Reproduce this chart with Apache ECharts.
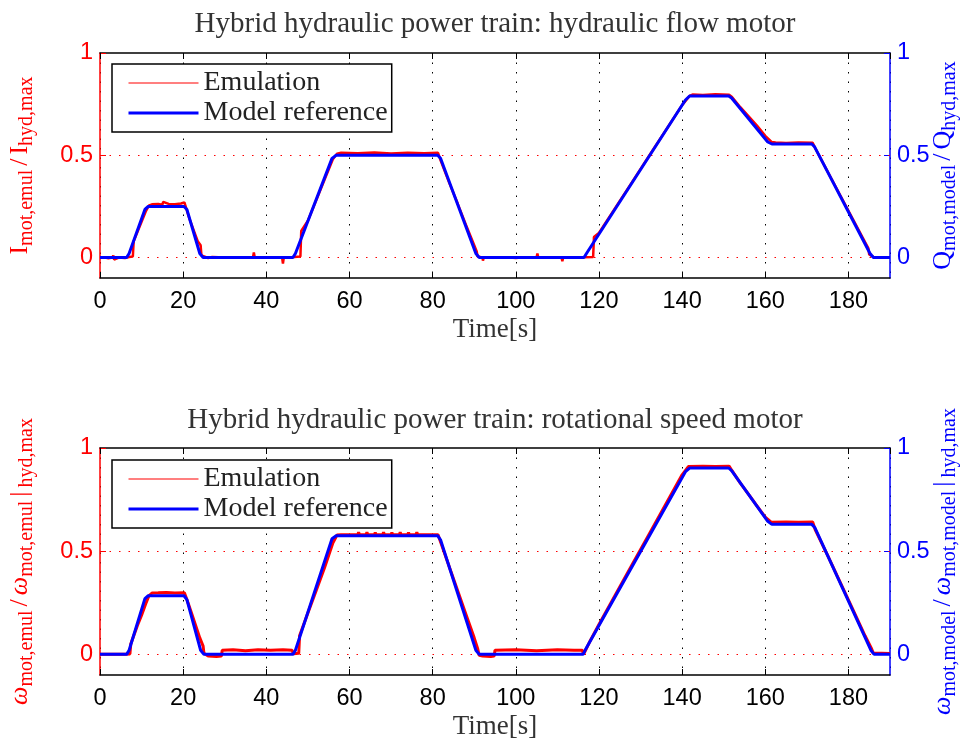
<!DOCTYPE html>
<html>
<head>
<meta charset="utf-8">
<script src="https://cdn.jsdelivr.net/npm/echarts@6/dist/echarts.min.js"></script>
<style>html,body{margin:0;padding:0;background:#fff}#c{width:962px;height:738px}</style>
</head>
<body>
<div id="c"></div>
<script>
// ---------- data ----------
const titles = ['Hybrid hydraulic power train: hydraulic flow motor', 'Hybrid hydraulic power train: rotational speed motor'];
const seriesNames = ['Emulation', 'Model reference'];
const xTicks = [0, 20, 40, 60, 80, 100, 120, 140, 160, 180];
const yTicks = [0, 0.5, 1];

// top plot: model reference (blue)
const modelTopT = [0, 6.4, 7.0, 10.8, 11.6, 20.2, 20.9, 24.0, 24.8, 46.4, 47.0, 55.8, 56.8, 81.2, 81.9, 90.4, 91.2, 116.4, 117.0, 140.8, 141.8, 151.2, 151.9, 160.6, 161.6, 171.2, 171.9, 185.2, 186.0, 190];
const modelTopV = [0, 0, 0.02, 0.235, 0.25, 0.25, 0.235, 0.02, 0, 0, 0.02, 0.485, 0.5, 0.5, 0.485, 0.02, 0, 0, 0.02, 0.77, 0.79, 0.79, 0.78, 0.565, 0.555, 0.555, 0.54, 0.02, 0, 0];
// top plot: emulation (red)
const emulTopT = [0, 1, 2, 3, 3.2, 3.4, 4.5, 6, 7, 7.9, 8.1, 9, 10, 11, 11.8, 12.5, 14, 15, 15.2, 16.5, 18, 19.5, 20.3, 20.6, 21.5, 22.5, 23.5, 24.2, 24.4, 25.2, 26, 27, 30, 33, 36.8, 37, 37.2, 40, 43.8, 44, 44.2, 46, 48.2, 48.4, 50, 52, 54, 56, 57, 58, 62, 66, 70, 74, 78, 81.3, 82, 84, 86, 88, 90, 90.6, 90.8, 92, 92.1, 92.3, 95, 98, 100, 102, 105, 105.2, 105.4, 108, 111, 111.2, 111.4, 114, 116.5, 118.6, 118.8, 120, 124, 128, 132, 136, 140, 141.8, 142.5, 145, 148, 151.3, 152, 154, 156, 158, 160, 161.5, 162.5, 165, 168, 171.4, 172, 175, 178, 181, 184, 184.8, 185, 186, 188, 190];
const emulTopV = [-0.002, 0.001, -0.003, 0.0, 0.01, -0.01, 0.0, -0.002, 0.003, 0.005, 0.08, 0.125, 0.175, 0.225, 0.255, 0.26, 0.262, 0.258, 0.272, 0.262, 0.26, 0.264, 0.27, 0.262, 0.19, 0.135, 0.08, 0.06, 0.01, 0.004, -0.002, 0.003, 0.0, 0.002, 0.001, 0.025, 0.002, 0.0, 0.0, -0.03, 0.0, 0.002, 0.005, 0.13, 0.18, 0.28, 0.38, 0.48, 0.508, 0.512, 0.51, 0.513, 0.509, 0.512, 0.51, 0.512, 0.47, 0.365, 0.265, 0.16, 0.06, 0.03, 0.005, 0.0, -0.015, 0.0, 0.002, 0.001, -0.002, 0.001, 0.0, 0.02, 0.0, 0.002, 0.0, -0.018, 0.0, 0.002, 0.001, 0.003, 0.1, 0.12, 0.245, 0.37, 0.495, 0.62, 0.745, 0.79, 0.797, 0.795, 0.798, 0.796, 0.785, 0.735, 0.69, 0.645, 0.595, 0.565, 0.562, 0.56, 0.563, 0.561, 0.535, 0.42, 0.305, 0.19, 0.075, 0.045, 0.015, 0.003, 0.0, 0.0];

// bottom plot: model reference (blue)
const modelBotT = [0, 6.4, 7.0, 10.8, 11.6, 20.2, 20.9, 24.2, 25.0, 46.4, 47.0, 55.8, 56.8, 81.2, 81.9, 90.4, 91.2, 116.2, 116.8, 140.8, 141.8, 151.2, 151.9, 160.6, 161.6, 171.2, 171.9, 185.4, 186.2, 190];
const modelBotV = [0, 0, 0.02, 0.27, 0.284, 0.284, 0.265, 0.02, 0, 0, 0.02, 0.56, 0.575, 0.575, 0.555, 0.02, 0, 0, 0.025, 0.885, 0.903, 0.903, 0.89, 0.645, 0.63, 0.63, 0.615, 0.02, 0, 0];
// bottom plot: emulation (red)
const emulBotT = [0, 6, 7.2, 7.4, 9, 10, 11, 11.8, 12.5, 14, 16, 18, 20.3, 21, 22, 23, 24, 24.8, 25, 26, 28, 29.2, 29.4, 32, 35, 38, 41, 44, 46.2, 46.5, 47.8, 48, 50, 52, 54, 56, 57, 58, 62, 62.2, 62.4, 64, 64.2, 64.4, 66, 66.2, 66.4, 68, 68.2, 68.4, 70, 70.2, 70.4, 72, 72.2, 72.4, 74, 74.2, 74.4, 76, 76.2, 76.4, 78, 81.3, 82, 84, 86, 88, 90, 90.8, 91.2, 92, 94, 94.8, 95, 100, 105, 110, 114, 116, 116.3, 118, 120, 124, 128, 132, 136, 140, 141.5, 145, 148, 151.3, 152, 154, 156, 158, 160, 161.5, 165, 168, 171.4, 172, 175, 178, 181, 184, 185.5, 186, 188, 190];
const emulBotV = [0, 0, 0.002, 0.05, 0.14, 0.19, 0.245, 0.285, 0.297, 0.298, 0.3, 0.297, 0.298, 0.26, 0.2, 0.14, 0.08, 0.04, 0.005, -0.008, -0.01, -0.008, 0.02, 0.022, 0.018, 0.022, 0.02, 0.022, 0.02, 0.003, 0.005, 0.09, 0.2, 0.31, 0.42, 0.54, 0.578, 0.58, 0.58, 0.592, 0.58, 0.58, 0.592, 0.58, 0.58, 0.591, 0.58, 0.58, 0.592, 0.58, 0.58, 0.591, 0.58, 0.58, 0.592, 0.58, 0.58, 0.591, 0.58, 0.58, 0.592, 0.58, 0.58, 0.58, 0.54, 0.425, 0.31, 0.195, 0.08, 0.03, -0.005, -0.008, -0.01, -0.008, 0.02, 0.022, 0.018, 0.022, 0.02, 0.02, 0.0, 0.07, 0.145, 0.29, 0.435, 0.58, 0.725, 0.87, 0.91, 0.912, 0.91, 0.912, 0.89, 0.83, 0.775, 0.72, 0.665, 0.64, 0.642, 0.64, 0.641, 0.605, 0.48, 0.35, 0.22, 0.09, 0.03, 0.005, 0.006, 0.004];

// ---------- helpers ----------
const pairs = (t, v) => t.map((x, i) => [x, v[i]]);
const RED = '#ff0000', BLUE = '#0000ff';
const SERIF = 'Liberation Serif';
const SANS = 'Liberation Sans';

function rich(color) {
  return {
    m: { fontFamily: SERIF, fontSize: 26, color: color, lineHeight: 34 },
    sl: { fontFamily: SERIF, fontSize: 26, color: color, lineHeight: 34, padding: [0, 4, 0, 4] },
    g: { fontFamily: SERIF, fontSize: 26, fontStyle: 'italic', color: color, lineHeight: 34 },
    s: { fontFamily: SERIF, fontSize: 20, color: color, lineHeight: 16, verticalAlign: 'bottom' }
  };
}

function xAxes(gi) {
  return [{
    type: 'value', gridIndex: gi, position: 'bottom', min: 0, max: 190, interval: 20,
    axisLine: { onZero: false, lineStyle: { color: '#000', width: 1.5 } },
    axisTick: { inside: true, length: 6, lineStyle: { color: '#000' } },
    axisLabel: { color: '#000', fontFamily: SANS, fontSize: 23.5, margin: 12, showMaxLabel: false },
    splitLine: { show: true, lineStyle: { color: '#000', type: [1.5, 8], width: 1 } },
    name: 'Time[s]', nameLocation: 'middle', nameGap: 38, nameMoveOverlap: false,
    nameTextStyle: { fontFamily: SERIF, fontSize: 27, color: '#333' }
  }, {
    type: 'value', gridIndex: gi, position: 'top', min: 0, max: 190, interval: 20,
    axisLine: { onZero: false, lineStyle: { color: '#000', width: 1.5 } },
    axisTick: { inside: true, length: 6, lineStyle: { color: '#000' } },
    axisLabel: { show: false }, splitLine: { show: false }
  }];
}

function yAxis(gi, pos, color, name, gap) {
  return {
    type: 'value', gridIndex: gi, position: pos, min: -0.1, max: 1,
    axisLine: { show: true, onZero: false, lineStyle: { color: color, width: 1.5 } },
    axisTick: { show: true, inside: true, length: 6, customValues: yTicks, lineStyle: { color: color } },
    axisLabel: { color: color, fontFamily: SANS, fontSize: 23.5, margin: 7, customValues: yTicks },
    splitLine: { show: false },
    name: name, nameLocation: 'middle', nameRotate: 90, nameGap: gap, nameMoveOverlap: false,
    nameTextStyle: { color: color, rich: rich(color) }
  };
}

function legend(top) {
  return {
    orient: 'vertical', left: 112, top: top,
    data: [{ name: seriesNames[0], lineStyle: { width: 1.2 } }, { name: seriesNames[1], lineStyle: { width: 3 } }],
    itemWidth: 70, itemHeight: 14, itemGap: 2,
    itemStyle: { opacity: 0 },
    padding: [5, 4, 5, 15],
    borderColor: '#000', borderWidth: 1.5, borderRadius: 0, backgroundColor: '#fff',
    textStyle: { fontFamily: SERIF, fontSize: 28, color: '#222', lineHeight: 28 },
    selectedMode: false
  };
}

function gridLines() {
  return {
    silent: true, symbol: 'none', z: 1,
    label: { show: false },
    lineStyle: { color: RED, type: [1.5, 8], width: 1 },
    data: [{ yAxis: 0 }, { yAxis: 0.5 }]
  };
}

const chart = echarts.init(document.getElementById('c'), null, { renderer: 'canvas' });
chart.setOption({
  animation: false,
  backgroundColor: '#fff',
  title: [
    { text: titles[0], left: 495, top: 10, textAlign: 'center', padding: 0, textStyle: { fontFamily: SERIF, fontSize: 29, fontWeight: 'normal', color: '#333' } },
    { text: titles[1], left: 495, top: 406, textAlign: 'center', padding: 0, textStyle: { fontFamily: SERIF, fontSize: 29, fontWeight: 'normal', color: '#333' } }
  ],
  grid: [
    { left: 100, top: 53, width: 790, height: 225, containLabel: false, outerBoundsMode: 'none' },
    { left: 100, top: 448, width: 790, height: 227, containLabel: false, outerBoundsMode: 'none' }
  ],
  legend: [legend(64), legend(460)],
  xAxis: [...xAxes(0), ...xAxes(1)],
  yAxis: [
    yAxis(0, 'left', RED, '{m|I}{s|mot,emul}{sl|/}{m|I}{s|hyd,max}', 63),
    yAxis(0, 'right', BLUE, '{m|Q}{s|mot,model}{sl|/}{m|Q}{s|hyd,max}', 36),
    yAxis(1, 'left', RED, '{g|ω}{s|mot,emul}{sl|/}{g|ω}{s|mot,emul}{sl||}{s|hyd,max}', 63),
    yAxis(1, 'right', BLUE, '{g|ω}{s|mot,model}{sl|/}{g|ω}{s|mot,model}{sl||}{s|hyd,max}', 36)
  ],
  series: [
    { name: seriesNames[0], type: 'line', xAxisIndex: 0, yAxisIndex: 0, data: pairs(emulTopT, emulTopV), symbol: 'none', showSymbol: false, z: 3, lineStyle: { color: RED, width: 2.5 }, itemStyle: { color: RED }, markLine: gridLines() },
    { name: seriesNames[1], type: 'line', xAxisIndex: 0, yAxisIndex: 0, data: pairs(modelTopT, modelTopV), symbol: 'none', showSymbol: false, z: 4, lineStyle: { color: BLUE, width: 3 }, itemStyle: { color: BLUE } },
    { name: seriesNames[0], type: 'line', xAxisIndex: 2, yAxisIndex: 2, data: pairs(emulBotT, emulBotV), symbol: 'none', showSymbol: false, z: 3, lineStyle: { color: RED, width: 3 }, itemStyle: { color: RED }, markLine: gridLines() },
    { name: seriesNames[1], type: 'line', xAxisIndex: 2, yAxisIndex: 2, data: pairs(modelBotT, modelBotV), symbol: 'none', showSymbol: false, z: 4, lineStyle: { color: BLUE, width: 3 }, itemStyle: { color: BLUE } }
  ]
});
</script>
</body>
</html>
